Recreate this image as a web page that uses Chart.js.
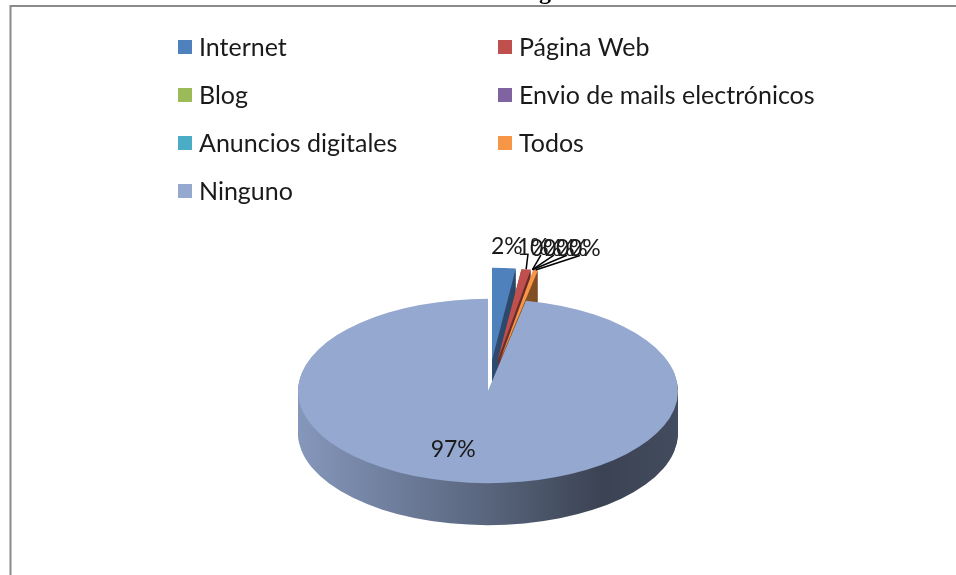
<!DOCTYPE html>
<html>
<head>
<meta charset="utf-8">
<script src="https://cdn.jsdelivr.net/npm/chart.js@4.4.1/dist/chart.umd.min.js"></script>
<style>
  html, body { margin: 0; padding: 0; background: #ffffff; }
  #chart { display: block; }
</style>
</head>
<body>
<canvas id="chart" width="956" height="575"></canvas>
<script>
const categories = ['Internet', 'Página Web', 'Blog', 'Envio de mails electrónicos', 'Anuncios digitales', 'Todos', 'Ninguno'];
const values = [2, 0.8, 0, 0, 0, 0.4, 96.8];
const sliceColors = ['#4F81BD', '#C0504D', '#9BBB59', '#8064A2', '#4BACC6', '#F79646', '#94A8D0'];
const titleText = 'Publicidad digital';

const total = values.reduce((s, v) => s + v, 0);
const pctLabel = v => Math.round(v / total * 100) + '%';
const labelFont = '23px Lato, "DejaVu Sans", sans-serif';
const legendFont = '25px Lato, "DejaVu Sans", sans-serif';

function hexRgb(hex) {
    const n = parseInt(hex.slice(1), 16);
    return [(n >> 16) & 255, (n >> 8) & 255, n & 255];
}
function shade(hex, f) {
    const [r, g, b] = hexRgb(hex);
    return `rgb(${Math.round(r * f)}, ${Math.round(g * f)}, ${Math.round(b * f)})`;
}

// fake 3D: squash the pie vertically, extrude the sides, pull the small slices out
const pie3d = {
    id: 'pie3d',
    beforeDatasetsDraw(chart, args, opts) {
        const ctx = chart.ctx;
        const arcs = chart.getDatasetMeta(0).data;
        const cx = arcs[0].x, cy = arcs[0].y, R = arcs[0].outerRadius;
        const k = opts.tilt;
        const shift = i => {
            const a = arcs[i];
            const m = (a.startAngle + a.endAngle) / 2;
            const e = values[i] / total < 0.1 ? opts.explode : 0;
            return [Math.cos(m) * e, Math.sin(m) * e];
        };
        const sides = sliceColors.map(c => {
            const g = ctx.createLinearGradient(cx - R, 0, cx + R, 0);
            g.addColorStop(0, shade(c, 0.9));
            g.addColorStop(0.5, shade(c, 0.6));
            g.addColorStop(0.8, shade(c, 0.4));
            g.addColorStop(1, shade(c, 0.45));
            return g;
        });

        ctx.save();
        ctx.translate(cx, cy);
        ctx.scale(1, k);
        ctx.translate(-cx, -cy);
        for (let d = opts.depth; d > 0; d--) {
            arcs.forEach((a, i) => {
                if (a.endAngle - a.startAngle <= 0) return;
                const [sx, sy] = shift(i);
                const y0 = cy + sy + d / k;
                ctx.beginPath();
                ctx.moveTo(cx + sx, y0);
                ctx.arc(cx + sx, y0, a.outerRadius, a.startAngle, a.endAngle);
                ctx.closePath();
                ctx.fillStyle = sides[i];
                ctx.fill();
            });
        }
        arcs.forEach((a, i) => {
            const [sx, sy] = shift(i);
            ctx.save();
            ctx.translate(sx, sy);
            a.draw(ctx);
            ctx.restore();
        });
        ctx.restore();
        chart.$shift = shift;
        return false;
    },
    afterDraw(chart, args, opts) {
        const ctx = chart.ctx;
        const arcs = chart.getDatasetMeta(0).data;
        const cx = arcs[0].x, cy = arcs[0].y, R = arcs[0].outerRadius;
        const k = opts.tilt;
        const shift = chart.$shift;

        // data labels
        ctx.save();
        ctx.font = labelFont;
        ctx.fillStyle = '#1a1a1a';
        ctx.textAlign = 'center';
        ctx.textBaseline = 'middle';
        let prevX = -Infinity;
        arcs.forEach((a, i) => {
            const m = (a.startAngle + a.endAngle) / 2;
            const [sx, sy] = shift(i);
            const txt = pctLabel(values[i]);
            if (values[i] / total >= 0.1) {
                const r = R * 0.67;
                const x = cx + sx + Math.cos(m) * r + opts.innerShift[0];
                const y = cy + (sy + Math.sin(m) * r) * k + opts.innerShift[1];
                ctx.fillText(txt, x, y);
                return;
            }
            const r = R + opts.explode + 45;
            let x = cx + Math.cos(m) * r;
            const y = cy + Math.sin(m) * r * k;
            x = Math.max(x, prevX + 13);
            prevX = x;
            if (values[i] / total < 0.015) {
                const rx = cx + sx + Math.cos(m) * R;
                const ry = cy + (sy + Math.sin(m) * R) * k;
                ctx.beginPath();
                ctx.moveTo(rx, ry);
                ctx.lineTo(x - 5, y + 7);
                ctx.strokeStyle = '#000';
                ctx.lineWidth = 1.5;
                ctx.stroke();
            }
            ctx.fillText(txt, x, y);
        });
        ctx.restore();

        // legend in two columns
        ctx.save();
        ctx.font = legendFont;
        ctx.textBaseline = 'middle';
        ctx.textAlign = 'left';
        categories.forEach((c, i) => {
            const x = opts.legendX[i % 2];
            const y = opts.legendY + Math.floor(i / 2) * opts.legendStep;
            ctx.fillStyle = sliceColors[i];
            ctx.fillRect(x, y - 7, 14, 14);
            ctx.fillStyle = '#1a1a1a';
            ctx.fillText(c, x + 21, y + 1);
        });
        ctx.restore();

        // cut-off title and frame
        ctx.save();
        ctx.font = 'bold 24px "Liberation Serif", serif';
        ctx.fillStyle = '#000';
        const gi = titleText.indexOf('g');
        const pre = ctx.measureText(titleText.slice(0, gi)).width;
        const gw = ctx.measureText('g').width;
        ctx.fillText(titleText, 545 - pre - gw / 2, -1);
        ctx.strokeStyle = '#8a8a8a';
        ctx.lineWidth = 2;
        ctx.beginPath();
        ctx.moveTo(10.5, 575);
        ctx.lineTo(10.5, 6);
        ctx.lineTo(956, 6);
        ctx.stroke();
        ctx.restore();
    }
};

new Chart(document.getElementById('chart').getContext('2d'), {
    type: 'pie',
    data: {
        labels: categories,
        datasets: [{
            data: values,
            backgroundColor: sliceColors,
            borderWidth: 0,
            radius: 190
        }]
    },
    options: {
        responsive: false,
        animation: false,
        layout: { padding: { left: 298, right: 278, top: 381, bottom: 174 } },
        plugins: {
            legend: { display: false },
            tooltip: { enabled: false },
            pie3d: {
                tilt: 0.485,
                depth: 42,
                explode: 64,
                innerShift: [-22, -3],
                legendX: [178, 498],
                legendY: 47,
                legendStep: 48
            }
        }
    },
    plugins: [pie3d]
});
</script>
</body>
</html>
